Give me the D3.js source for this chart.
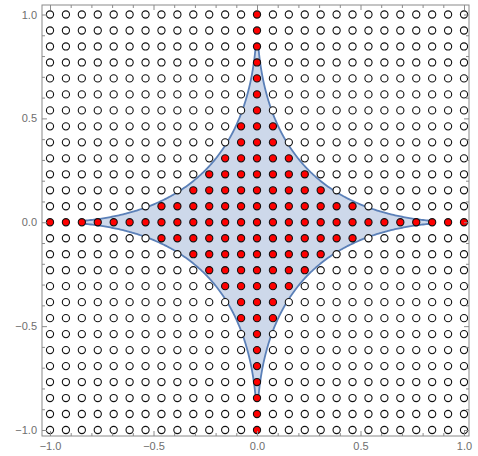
<!DOCTYPE html>
<html>
<head>
<meta charset="utf-8">
<script src="https://cdn.jsdelivr.net/npm/d3@7"></script>
<style>
  html, body { margin: 0; padding: 0; background: #fff; }
  svg { display: block; }
  .tick text { font-family: "Liberation Sans", Arial, sans-serif; font-size: 11px; fill: #6e6e6e; }
</style>
</head>
<body>
<svg id="chart" width="478" height="456"></svg>
<script>
// Lattice: 27 x 27 points, step 1/13, on [-1, 1] x [-1, 1]
const gridIndex = d3.range(-13, 14);
const gridStep = 1 / 13;
// For each row |j| (0..13): largest |i| whose point lies inside the region
const insideHalfWidth = [13, 6, 4, 3, 2, 1, 1, 0, 0, 0, 0, 0, 0, 0];
// Region sqrt|x| + sqrt|y| <= 1, drawn up to where its cusps are resolved
const cuspReach = 0.84;
// Frame tick values
const majorTicks = [-1, -0.5, 0, 0.5, 1];
const minorTicks = d3.range(-10, 11).map(k => k / 10).filter(v => !majorTicks.some(m => Math.abs(m - v) < 1e-9));
const tickLabels = ["\u22121.0", "\u22120.5", "0.0", "0.5", "1.0"];

const svg = d3.select("#chart");
const frame = { left: 42, right: 469, top: 5, bottom: 436 };
const x = d3.scaleLinear().domain([-1, 1]).range([50, 464]);
const y = d3.scaleLinear().domain([-1, 1]).range([430, 14.5]);

// Region boundary, counter-clockwise: x = ±t^2, y = ±(1 - t)^2 per quadrant
const t0 = 1 - Math.sqrt(cuspReach);
const ascending = d3.range(0, 201).map(k => t0 + (1 - 2 * t0) * k / 200);
const descending = ascending.slice().reverse();
const boundary = [];
[[1, 1, descending], [-1, 1, ascending], [-1, -1, descending], [1, -1, ascending]]
  .forEach(([sx, sy, ts]) => {
    ts.forEach(t => boundary.push([sx * t * t, sy * (1 - t) * (1 - t)]));
  });
const line = d3.line().x(d => x(d[0])).y(d => y(d[1])).curve(d3.curveLinearClosed);

svg.append("path")
  .attr("d", line(boundary))
  .attr("fill", "#cdd8ea")
  .attr("stroke", "#5b80b8")
  .attr("stroke-width", 1.8)
  .attr("stroke-linejoin", "round");

// Lattice points
const pts = [];
gridIndex.forEach(j => gridIndex.forEach(i => {
  pts.push({ i, j, inside: Math.abs(i) <= insideHalfWidth[Math.abs(j)] });
}));
svg.append("g").selectAll("circle").data(pts).join("circle")
  .attr("cx", d => x(d.i * gridStep))
  .attr("cy", d => y(d.j * gridStep))
  .attr("r", 3.6)
  .attr("fill", d => d.inside ? "#ff0000" : "#ffffff")
  .attr("stroke", "#111")
  .attr("stroke-width", 1.1);

// Frame
const frameColor = "#8a8a8a";
svg.append("rect")
  .attr("x", frame.left).attr("y", frame.top)
  .attr("width", frame.right - frame.left).attr("height", frame.bottom - frame.top)
  .attr("fill", "none").attr("stroke", frameColor).attr("stroke-width", 1);

function styleAxis(g) {
  g.select(".domain").remove();
  g.selectAll(".tick line").attr("stroke", frameColor);
}
const fmt = v => tickLabels[majorTicks.findIndex(m => Math.abs(m - v) < 1e-9)];

// bottom
svg.append("g").attr("transform", `translate(0,${frame.bottom})`)
  .call(d3.axisBottom(x).tickValues(majorTicks).tickFormat(fmt).tickSizeInner(-5).tickPadding(6))
  .call(styleAxis);
svg.append("g").attr("transform", `translate(0,${frame.bottom})`)
  .call(d3.axisBottom(x).tickValues(minorTicks).tickFormat("").tickSizeInner(-3))
  .call(styleAxis);
// top
svg.append("g").attr("transform", `translate(0,${frame.top})`)
  .call(d3.axisTop(x).tickValues(majorTicks).tickFormat("").tickSizeInner(-5))
  .call(styleAxis);
svg.append("g").attr("transform", `translate(0,${frame.top})`)
  .call(d3.axisTop(x).tickValues(minorTicks).tickFormat("").tickSizeInner(-3))
  .call(styleAxis);
// left
svg.append("g").attr("transform", `translate(${frame.left},0)`)
  .call(d3.axisLeft(y).tickValues(majorTicks).tickFormat(fmt).tickSizeInner(-5).tickPadding(5))
  .call(styleAxis);
svg.append("g").attr("transform", `translate(${frame.left},0)`)
  .call(d3.axisLeft(y).tickValues(minorTicks).tickFormat("").tickSizeInner(-3))
  .call(styleAxis);
// right
svg.append("g").attr("transform", `translate(${frame.right},0)`)
  .call(d3.axisRight(y).tickValues(majorTicks).tickFormat("").tickSizeInner(-5))
  .call(styleAxis);
svg.append("g").attr("transform", `translate(${frame.right},0)`)
  .call(d3.axisRight(y).tickValues(minorTicks).tickFormat("").tickSizeInner(-3))
  .call(styleAxis);
</script>
</body>
</html>
